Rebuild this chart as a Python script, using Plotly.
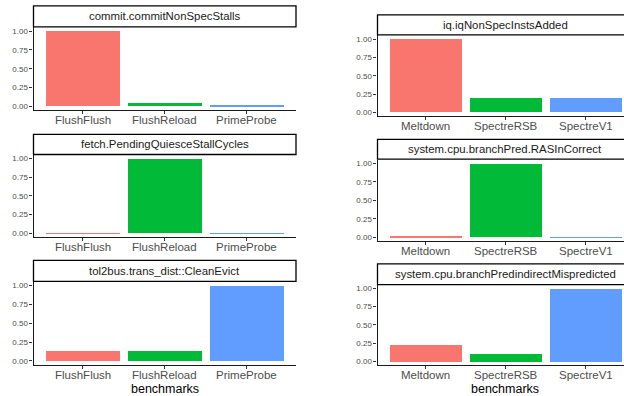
import plotly.graph_objects as go

# Benchmark groups and normalised counter values per panel
left_benchmarks = ["FlushFlush", "FlushReload", "PrimeProbe"]
right_benchmarks = ["Meltdown", "SpectreRSB", "SpectreV1"]

commit_non_spec_stalls = [1.0, 0.04, 0.006]
fetch_pending_quiesce = [0.006, 1.0, 0.006]
tol2bus_clean_evict = [0.14, 0.14, 1.0]

iq_non_spec_insts_added = [1.0, 0.19, 0.19]
ras_incorrect = [0.02, 0.99, 0.004]
indirect_mispredicted = [0.235, 0.11, 1.0]

colors = ["#F8766D", "#00BA38", "#619CFF"]

W, H = 624, 396


def fx(px):
    return px / W


def fy(px):
    return 1 - px / H


# panel definitions: title, categories, values, x-px span, plot y-px span, strip y-px span, x-range
panels = [
    ("commit.commitNonSpecStalls", left_benchmarks, commit_non_spec_stalls,
     (33.5, 296), (26.5, 109.8), (5, 26), [-0.6, 2.6]),
    ("fetch.PendingQuiesceStallCycles", left_benchmarks, fetch_pending_quiesce,
     (33.5, 296), (154.5, 237.1), (134, 154.3), [-0.6, 2.6]),
    ("tol2bus.trans_dist::CleanEvict", left_benchmarks, tol2bus_clean_evict,
     (33.5, 296), (282.2, 365.5), (260.7, 281.7), [-0.6, 2.6]),
    ("iq.iqNonSpecInstsAdded", right_benchmarks, iq_non_spec_insts_added,
     (377.5, 624), (34.6, 115.7), (14, 34), [-0.6, 2.48]),
    ("system.cpu.branchPred.RASInCorrect", right_benchmarks, ras_incorrect,
     (377.5, 624), (159.6, 241), (139, 159), [-0.6, 2.48]),
    ("system.cpu.branchPredindirectMispredicted", right_benchmarks, indirect_mispredicted,
     (377.5, 624), (285, 366), (264.3, 285), [-0.6, 2.48]),
]

fig = go.Figure()
shapes = []
annotations = []
font_family = "Liberation Sans, Arial, sans-serif"

for i, (title, cats, vals, xs, ys, ss, xr) in enumerate(panels, start=1):
    xa = "x" if i == 1 else f"x{i}"
    ya = "y" if i == 1 else f"y{i}"
    fig.add_trace(go.Bar(
        x=cats, y=vals, width=0.9, marker=dict(color=colors, line=dict(width=0)),
        xaxis=xa, yaxis=ya, showlegend=False, hoverinfo="x+y",
    ))
    xkey = "xaxis" if i == 1 else f"xaxis{i}"
    ykey = "yaxis" if i == 1 else f"yaxis{i}"
    fig.layout[xkey] = dict(
        domain=[fx(xs[0]), min(fx(xs[1]), 1.0)], anchor=ya, type="category",
        categoryorder="array", categoryarray=cats,
        range=xr, showline=True, linecolor="#1a1a1a", linewidth=1.1,
        ticks="outside", ticklen=3, tickcolor="#333333", tickwidth=1,
        showgrid=False, zeroline=False, showticklabels=False,
        fixedrange=True,
    )
    fig.layout[ykey] = dict(
        domain=[fy(ys[1]), fy(ys[0])], anchor=xa,
        range=[-0.05, 1.05], tickvals=[0, 0.25, 0.5, 0.75, 1.0],
        tickformat=".2f", showline=True, linecolor="#1a1a1a", linewidth=1.1,
        ticks="outside", ticklen=3, tickcolor="#333333", tickwidth=1,
        showgrid=False, zeroline=False,
        tickfont=dict(family=font_family, size=8, color="#4d4d4d"),
        fixedrange=True,
    )
    # category labels placed close under the axis line
    for c in cats:
        annotations.append(dict(
            text=c, xref=xa, yref="paper", x=c, y=fy(ys[1] + 10),
            xanchor="center", yanchor="middle", showarrow=False,
            font=dict(family=font_family, size=11.5, color="#4d4d4d"),
        ))
    # facet strip
    x1 = fx(xs[1]) if xs[1] < W else 1.02
    shapes.append(dict(
        type="rect", xref="paper", yref="paper",
        x0=fx(xs[0]), x1=x1, y0=fy(ss[1]), y1=fy(ss[0]),
        line=dict(color="#000000", width=1.3), fillcolor="white", layer="above",
    ))
    annotations.append(dict(
        text=title, xref="paper", yref="paper",
        x=(fx(xs[0]) + fx(xs[1] if xs[1] < W else 633)) / 2,
        y=fy((ss[0] + ss[1]) / 2), xanchor="center", yanchor="middle",
        showarrow=False, font=dict(family=font_family, size=11.4, color="#1a1a1a"),
    ))

# shared x-axis titles under the bottom row
for cx in (165, 505):
    annotations.append(dict(
        text="benchmarks", xref="paper", yref="paper", x=fx(cx), y=fy(389.5),
        xanchor="center", yanchor="middle", showarrow=False,
        font=dict(family=font_family, size=12.5, color="#000000"),
    ))

fig.update_layout(
    width=W, height=H, margin=dict(l=0, r=0, t=0, b=0),
    paper_bgcolor="white", plot_bgcolor="white",
    shapes=shapes, annotations=annotations, bargap=0,
    font=dict(family=font_family),
)

fig.write_html("out.html")
